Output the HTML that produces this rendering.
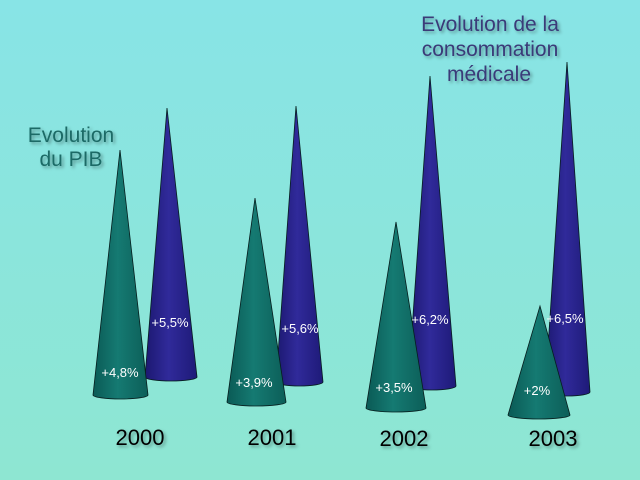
<!DOCTYPE html>
<html><head><meta charset="utf-8"><style>
html,body{margin:0;padding:0}
body{width:640px;height:480px;overflow:hidden;background:linear-gradient(#88e4e6,#8ee6d2);}
svg{display:block}
</style></head><body>
<svg width="640" height="480" viewBox="0 0 640 480" xmlns="http://www.w3.org/2000/svg">
<defs>
<linearGradient id="g" x1="0" x2="1"><stop offset="0" stop-color="#0a5a55"/><stop offset="0.45" stop-color="#157a72"/><stop offset="1" stop-color="#0c5e58"/></linearGradient>
<linearGradient id="b" x1="0" x2="1"><stop offset="0" stop-color="#1c1870"/><stop offset="0.45" stop-color="#302a9a"/><stop offset="1" stop-color="#1e1a78"/></linearGradient>
<filter id="s"><feDropShadow dx="2" dy="2" stdDeviation="1.5" flood-color="#000" flood-opacity="0.35"/></filter>
</defs>
<g stroke="#061e1e" stroke-width="0.8">
<path d="M167,108 L197,377 A26,4 0 0 1 145,377 Z" fill="url(#b)"/>
<path d="M120,150 L148,395 A27.5,4 0 0 1 93,395 Z" fill="url(#g)"/>
<path d="M296,106 L323,382 A23.5,4 0 0 1 276,382 Z" fill="url(#b)"/>
<path d="M255,198 L286,402 A29.5,4 0 0 1 227,402 Z" fill="url(#g)"/>
<path d="M430,76 L456,386 A24,4 0 0 1 408,386 Z" fill="url(#b)"/>
<path d="M396,222 L426,408 A30,4 0 0 1 366,408 Z" fill="url(#g)"/>
<path d="M567,62 L590,392 A22.5,4 0 0 1 545,392 Z" fill="url(#b)"/>
<path d="M540,306 L570,415 A31,4 0 0 1 508,415 Z" fill="url(#g)"/>
</g>
<g font-family="Liberation Sans, sans-serif" font-size="13" fill="#fff" text-anchor="middle">
<text x="120" y="377">+4,8%</text><text x="170" y="327">+5,5%</text>
<text x="254" y="387">+3,9%</text><text x="300" y="333">+5,6%</text>
<text x="394" y="392">+3,5%</text><text x="430" y="324">+6,2%</text>
<text x="537" y="395">+2%</text><text x="565" y="323">+6,5%</text>
</g>
<g font-family="Liberation Sans, sans-serif" font-size="22" fill="#000" text-anchor="middle" filter="url(#s)">
<text x="140" y="445">2000</text><text x="272" y="445">2001</text>
<text x="404" y="446">2002</text><text x="553" y="446">2003</text>
</g>
<g font-family="Liberation Sans, sans-serif" font-size="21" fill="#1e6a66" text-anchor="middle" filter="url(#s)">
<text x="71" y="142">Evolution</text><text x="71" y="166">du PIB</text>
</g>
<g font-family="Liberation Sans, sans-serif" font-size="21" fill="#3a3a78" text-anchor="middle" filter="url(#s)">
<text x="490" y="31">Evolution de la</text><text x="490" y="56">consommation</text><text x="489" y="81">médicale</text>
</g>
</svg>
</body></html>
